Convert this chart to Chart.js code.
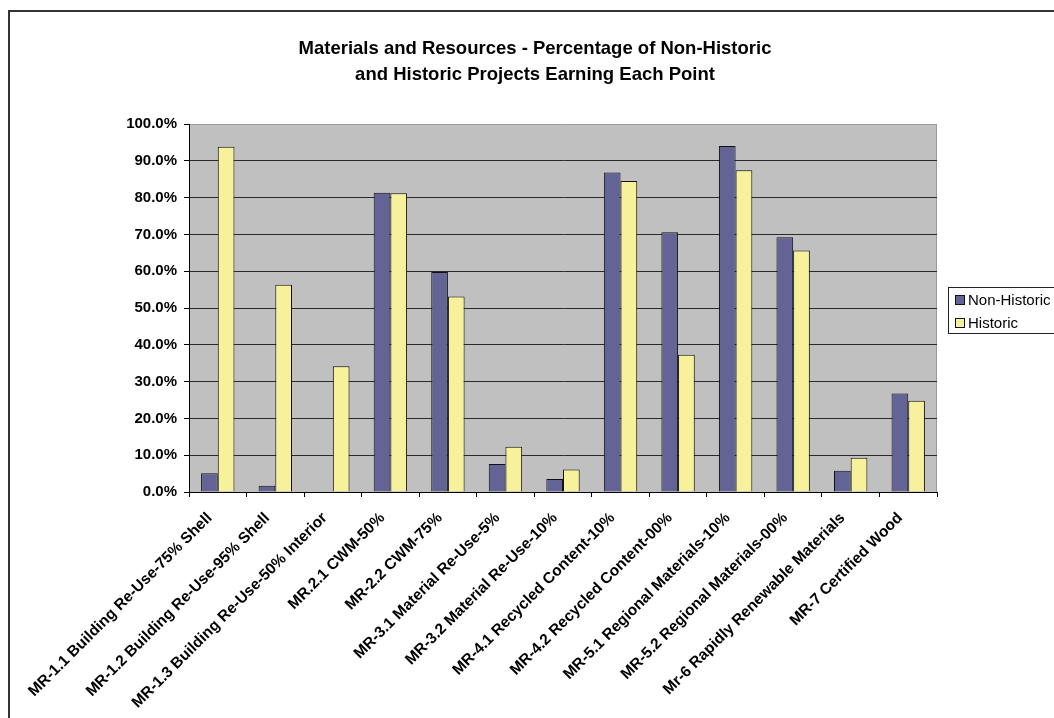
<!DOCTYPE html>
<html>
<head>
<meta charset="utf-8">
<title>Materials and Resources</title>
<script src="https://cdn.jsdelivr.net/npm/chart.js@4.4.1/dist/chart.umd.min.js"></script>
<style>
  html, body { margin: 0; padding: 0; background: #ffffff; overflow: hidden; }
  #frame {
    position: absolute; left: 8px; top: 10px;
    width: 1100px; height: 760px;
    border: 2px solid #333333;
    box-sizing: border-box;
  }
  #wrap { position: absolute; left: 1px; top: 1px; width: 1050px; height: 705px; }
</style>
</head>
<body>
<div id="frame"><div id="wrap"><canvas id="c"></canvas></div></div>
<script>
// Credits under LEED Materials and Resources
const categories = [
  'MR-1.1 Building Re-Use-75% Shell',
  'MR-1.2 Building Re-Use-95% Shell',
  'MR-1.3 Building Re-Use-50% Interior',
  'MR.2.1 CWM-50%',
  'MR-2.2 CWM-75%',
  'MR-3.1 Material Re-Use-5%',
  'MR-3.2 Material Re-Use-10%',
  'MR-4.1 Recycled Content-10%',
  'MR-4.2 Recycled Content-00%',
  'MR-5.1 Regional Materials-10%',
  'MR-5.2 Regional Materials-00%',
  'Mr-6 Rapidly Renewable Materials',
  'MR-7 Certified Wood'
];

// Share of projects earning each point (%)
const nonHistoric = [5.1, 1.7, 0, 81.3, 59.8, 7.6, 3.5, 86.8, 70.6, 94.0, 69.2, 5.8, 26.8];
const historic    = [93.8, 56.3, 34.2, 81.2, 53.1, 12.3, 6.1, 84.5, 37.3, 87.4, 65.6, 9.3, 24.8];

const seriesNames = ['Non-Historic', 'Historic'];
const titleLines = ['Materials and Resources - Percentage of Non-Historic',
                    'and Historic Projects Earning Each Point'];

const NAVY = '#636395';
const YELLOW = '#F6F19A';
const FONT = '"Liberation Sans", Arial, sans-serif';

// Gray plot background plus its light top/right edges
const plotBackground = {
  id: 'plotBackground',
  beforeDraw(chart) {
    const { ctx, chartArea: a } = chart;
    ctx.save();
    ctx.fillStyle = '#C0C0C0';
    ctx.fillRect(a.left, a.top, a.right - a.left, a.bottom - a.top);
    ctx.strokeStyle = '#9a9a9a';
    ctx.lineWidth = 1;
    ctx.beginPath();
    ctx.moveTo(a.left, a.top + 0.5);
    ctx.lineTo(a.right - 0.5, a.top + 0.5);
    ctx.lineTo(a.right - 0.5, a.bottom);
    ctx.stroke();
    ctx.restore();
  }
};

// Two-line heading centred on the page frame
const pageTitle = {
  id: 'pageTitle',
  afterDraw(chart) {
    const { ctx } = chart;
    ctx.save();
    ctx.fillStyle = '#000';
    ctx.font = 'bold 18.5px ' + FONT;
    ctx.textAlign = 'center';
    ctx.textBaseline = 'middle';
    titleLines.forEach((line, i) => ctx.fillText(line, 524, 36 + i * 26));
    ctx.restore();
  }
};

// Boxed legend on the right, drawn from the dataset labels and colours
const boxLegend = {
  id: 'boxLegend',
  afterDraw(chart) {
    const { ctx } = chart;
    const x = 937, y = 274, w = 130, h = 46;
    ctx.save();
    ctx.fillStyle = '#ffffff';
    ctx.fillRect(x, y, w, h);
    ctx.strokeStyle = '#222';
    ctx.lineWidth = 1;
    ctx.strokeRect(x + 0.5, y + 0.5, w, h);
    ctx.font = '15px ' + FONT;
    ctx.textBaseline = 'middle';
    chart.data.datasets.forEach((ds, i) => {
      const sy = y + 8 + i * 23;
      ctx.fillStyle = ds.backgroundColor;
      ctx.fillRect(x + 7, sy, 10, 10);
      ctx.strokeStyle = '#111';
      ctx.strokeRect(x + 7.5, sy + 0.5, 9, 9);
      ctx.fillStyle = '#000';
      ctx.fillText(ds.label, x + 20, sy + 5.5);
    });
    ctx.restore();
  }
};

new Chart(document.getElementById('c'), {
  type: 'bar',
  data: {
    labels: categories,
    datasets: [
      { label: seriesNames[0], data: nonHistoric, backgroundColor: NAVY,
        borderColor: '#111111', borderWidth: 1, borderSkipped: 'bottom' },
      { label: seriesNames[1], data: historic, backgroundColor: YELLOW,
        borderColor: '#111111', borderWidth: 1, borderSkipped: 'bottom' }
    ]
  },
  options: {
    responsive: true,
    maintainAspectRatio: false,
    animation: false,
    events: [],
    layout: { padding: { left: 0, right: 124, top: 111, bottom: 0 } },
    datasets: { bar: { categoryPercentage: 0.58, barPercentage: 1.0 } },
    plugins: {
      legend: { display: false },
      tooltip: { enabled: false },
      title: { display: false }
    },
    scales: {
      x: {
        grid: { display: true, drawOnChartArea: false, offset: true,
                tickLength: 5, tickColor: '#000', tickWidth: 1 },
        border: { display: true, color: '#000', width: 1 },
        ticks: {
          autoSkip: false, maxRotation: 45, minRotation: 45, padding: 12,
          labelOffset: -8,
          color: '#000', font: { family: FONT, size: 15.5, weight: 'bold' }
        },
        afterFit(axis) { axis.height = 226; }
      },
      y: {
        min: 0, max: 100,
        grid: {
          color: (c) => (c.tick && c.tick.value === 100) ? 'rgba(0,0,0,0)' : '#2a2a2a',
          tickColor: '#000', tickLength: 5, lineWidth: 1
        },
        border: { display: true, color: '#000', width: 1 },
        ticks: {
          stepSize: 10, padding: 7, color: '#000',
          font: { family: FONT, size: 15, weight: 'bold' },
          callback: (v) => v.toFixed(1) + '%'
        },
        afterFit(axis) { axis.width = 178; }
      }
    }
  },
  plugins: [plotBackground, pageTitle, boxLegend]
});
</script>
</body>
</html>
